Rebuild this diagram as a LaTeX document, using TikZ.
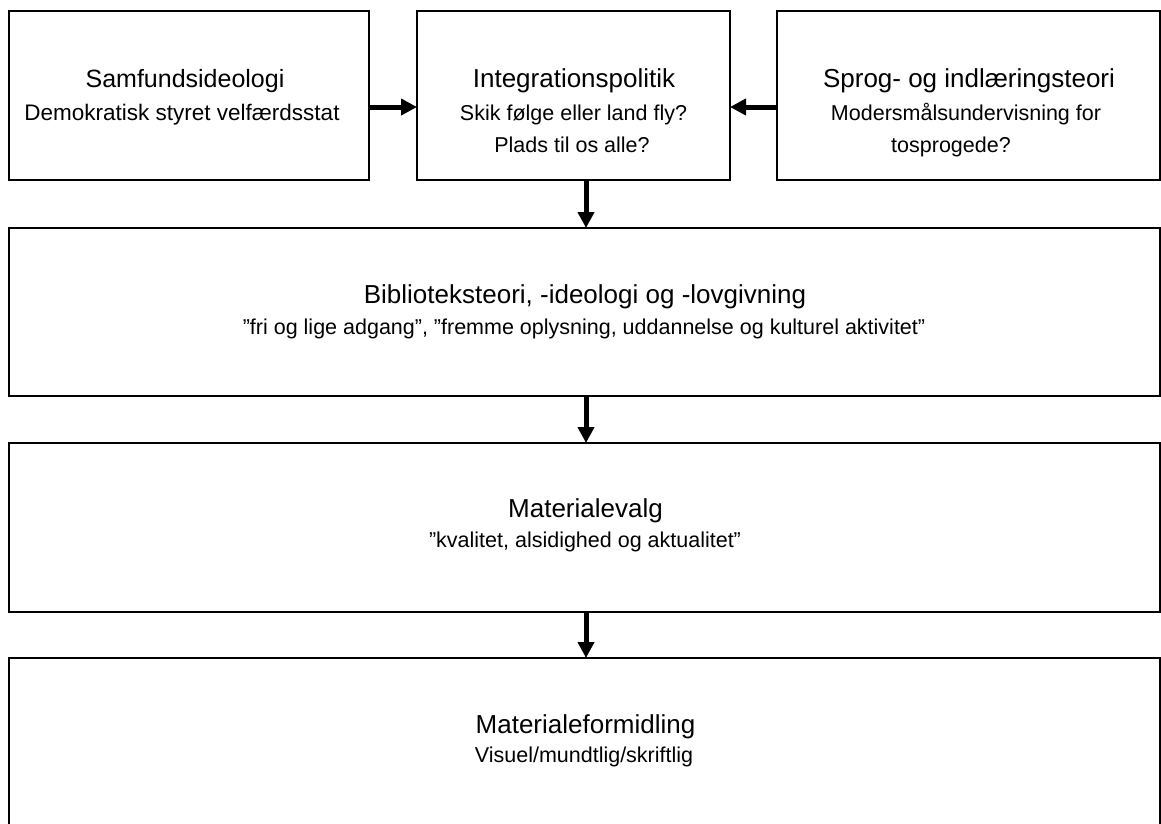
\documentclass[tikz,border=0pt]{standalone}
\usepackage{fontspec}
\setmainfont{Liberation Sans}
\usetikzlibrary{arrows.meta}
\begin{document}
\begin{tikzpicture}[x=1pt,y=-1pt,
  box/.style={draw=black, line width=1.5pt, inner sep=0pt, outer sep=0pt, anchor=north west},
  ttl/.style={anchor=base, inner sep=0pt, font=\fontsize{26}{30}\selectfont},
  sub/.style={anchor=base, inner sep=0pt, font=\fontsize{21.5}{26}\selectfont},
  arr/.style={line width=5pt, -{Triangle[length=16pt,width=16pt]}}]
\useasboundingbox (0,0) rectangle (1161,823);
\coordinate (ax) at (586,0);
\coordinate (ay) at (0,107);
% boxes
\node[box, minimum width=360pt, minimum height=169pt] (b1) at (9,11) {};
\node[box, minimum width=313pt, minimum height=169pt] (b2) at (417,11) {};
\node[box, minimum width=383pt, minimum height=169pt] (b3) at (777,11) {};
\node[box, minimum width=1151pt, minimum height=168pt] (b4) at (9,228) {};
\node[box, minimum width=1151pt, minimum height=169pt] (b5) at (9,443) {};
\node[box, minimum width=1151pt, minimum height=192pt] (b6) at (9,658) {};
% texts
\node[ttl, font=\fontsize{25}{30}\selectfont] (t1a) at (185,87) {Samfundsideologi};
\node[sub, font=\fontsize{22.5}{26}\selectfont] (t1b) at (182,120) {Demokratisk styret velfærdsstat};
\node[ttl] (t2a) at (574,87) {Integrationspolitik};
\node[sub] (t2b) at (573.5,120) {Skik følge eller land fly?};
\node[sub] (t2c) at (572,152) {Plads til os alle?};
\node[ttl] (t3a) at (969,87) {Sprog- og indlæringsteori};
\node[sub] (t3b) at (966,120) {Modersmålsundervisning for};
\node[sub] (t3c) at (951,152) {tosprogede?};
\node[ttl] (t4a) at (585,303) {Biblioteksteori, -ideologi og -lovgivning};
\node[sub] (t4b) at (584,334) {”fri og lige adgang”, ”fremme oplysning, uddannelse og kulturel aktivitet”};
\node[ttl] (t5a) at (585.5,517) {Materialevalg};
\node[sub] (t5b) at (585,547) {”kvalitet, alsidighed og aktualitet”};
\node[ttl] (t6a) at (585.5,733) {Materialeformidling};
\node[sub] (t6b) at (584,762) {Visuel/mundtlig/skriftlig};
% arrows
\draw[arr] (b1.east |- ay) -- (b2.west |- ay);
\draw[arr] (b3.west |- ay) -- (b2.east |- ay);
\draw[arr] (b2.south -| ax) -- (b4.north -| ax);
\draw[arr] (b4.south -| ax) -- (b5.north -| ax);
\draw[arr] (b5.south -| ax) -- (b6.north -| ax);
\end{tikzpicture}
\end{document}
